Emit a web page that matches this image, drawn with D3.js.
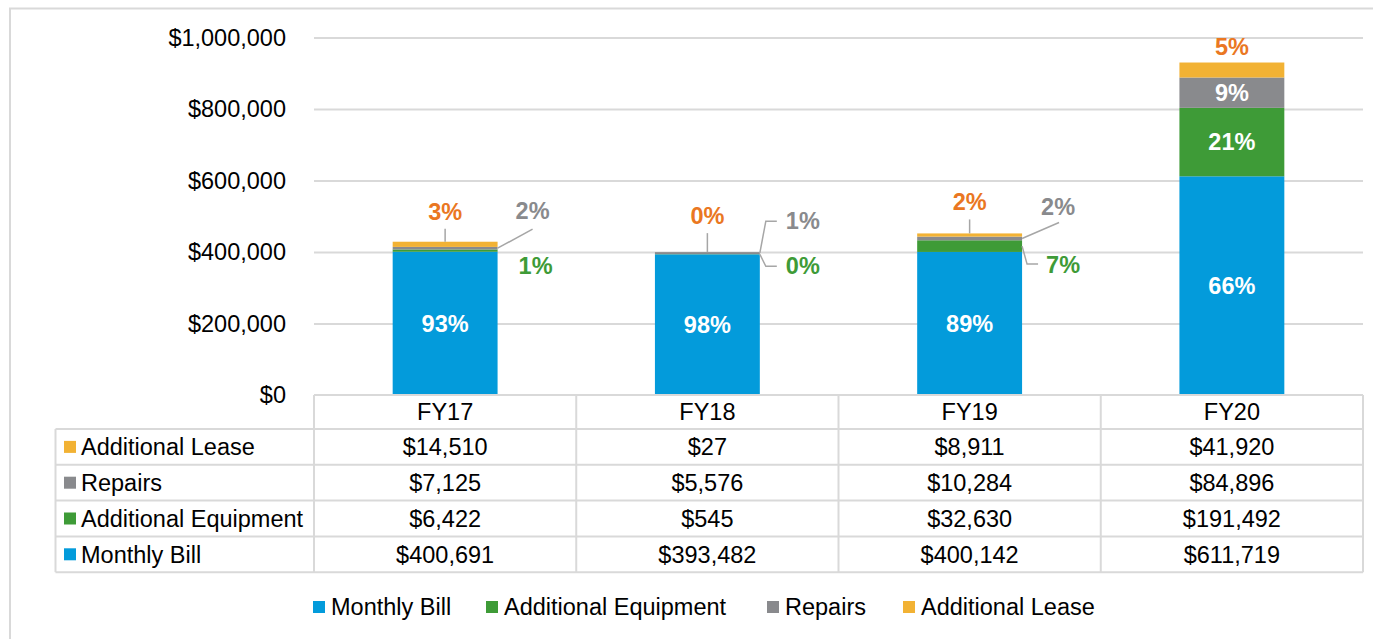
<!DOCTYPE html>
<html>
<head>
<meta charset="utf-8">
<script src="https://cdn.jsdelivr.net/npm/d3@7"></script>
<style>
  body { margin: 0; background: #fff; }
  svg { display: block; font-family: "Liberation Sans", Arial, sans-serif; }
</style>
</head>
<body>
<div id="chart"></div>
<script>
// data
var years = ["FY17", "FY18", "FY19", "FY20"];
var seriesNames = ["Monthly Bill", "Additional Equipment", "Repairs", "Additional Lease"];
var monthlyBill = [400691, 393482, 400142, 611719];
var additionalEquipment = [6422, 545, 32630, 191492];
var repairs = [7125, 5576, 10284, 84896];
var additionalLease = [14510, 27, 8911, 41920];
var yTicks = [0, 200000, 400000, 600000, 800000, 1000000];

var colors = {
    "Monthly Bill": "#039bdb",
    "Additional Equipment": "#3e9b37",
    "Repairs": "#898a8d",
    "Additional Lease": "#f2b234"
};
var labelColors = {
    "Additional Equipment": "#3e9b37",
    "Repairs": "#898a8d",
    "Additional Lease": "#ea7722"
};

// label placement for the thin segments (offsets from the segment anchor)
var callouts = [
    {year: "FY17", key: "Additional Lease", lx: 0, ly: -30, leader: [[0, 0], [0, -13]]},
    {year: "FY17", key: "Repairs", lx: 35, ly: -37, leader: [[0, 0], [35, -19]]},
    {year: "FY17", key: "Additional Equipment", lx: 38, ly: 15, leader: null},
    {year: "FY18", key: "Additional Lease", lx: 0, ly: -36, leader: [[0, 0], [0, -19]]},
    {year: "FY18", key: "Repairs", lx: 43, ly: -32, leader: [[0, 0], [6, -32], [17, -32]]},
    {year: "FY18", key: "Additional Equipment", lx: 43, ly: 12, leader: [[0, 0], [6, 12], [17, 12]]},
    {year: "FY19", key: "Additional Lease", lx: 0, ly: -32, leader: [[0, 0], [0, -14]]},
    {year: "FY19", key: "Repairs", lx: 36, ly: -32, leader: [[0, 0], [37, -16]]},
    {year: "FY19", key: "Additional Equipment", lx: 41, ly: 19, leader: [[0, 0], [5, 18], [16, 18]]},
    {year: "FY20", key: "Additional Lease", lx: 0, ly: -16, leader: null}
];

var rows = years.map(function(y, i) {
    return {
        year: y,
        "Monthly Bill": monthlyBill[i],
        "Additional Equipment": additionalEquipment[i],
        "Repairs": repairs[i],
        "Additional Lease": additionalLease[i]
    };
});

var width = 1373, height = 639;
var plotLeft = 314, plotRight = 1363, plotTop = 37.5, plotBottom = 395;
var gridColor = "#d9d9d9";
var fontSize = 23.5;

var svg = d3.select("#chart").append("svg")
    .attr("width", width)
    .attr("height", height);

// outer frame
svg.append("rect")
    .attr("x", 10).attr("y", 8.5)
    .attr("width", width + 20).attr("height", height + 20)
    .attr("fill", "none")
    .attr("stroke", gridColor)
    .attr("stroke-width", 2);

var x = d3.scaleBand().domain(years).range([plotLeft, plotRight]);
var y = d3.scaleLinear().domain([0, 1000000]).range([plotBottom, plotTop]);
var barW = x.bandwidth() * 0.4;

// y axis and grid
var yAxis = d3.axisLeft(y)
    .tickValues(yTicks)
    .tickSize(-(plotRight - plotLeft))
    .tickPadding(28)
    .tickFormat(d3.format("$,"));

var gy = svg.append("g")
    .attr("transform", "translate(" + plotLeft + ",0)")
    .call(yAxis);
gy.select(".domain").remove();
gy.selectAll(".tick line")
    .attr("stroke", gridColor)
    .attr("stroke-width", 2)
    .filter(function(d) { return d === 0; }).remove();
gy.selectAll(".tick text")
    .attr("fill", "#000")
    .style("font-size", fontSize + "px")
    .style("font-family", "'Liberation Sans', Arial, sans-serif");

// stacked bars
var stack = d3.stack().keys(seriesNames);
var stacked = stack(rows);

var layers = svg.append("g").selectAll("g")
    .data(stacked)
    .join("g")
    .attr("fill", function(d) { return colors[d.key]; });

layers.selectAll("rect")
    .data(function(d) { return d; })
    .join("rect")
    .attr("x", function(d) { return x(d.data.year) + (x.bandwidth() - barW) / 2; })
    .attr("y", function(d) { return y(d[1]); })
    .attr("width", barW)
    .attr("height", function(d) { return y(d[0]) - y(d[1]); });

var pct = d3.format(".0%");
function total(r) {
    return d3.sum(seriesNames, function(k) { return r[k]; });
}

// labels inside tall segments
var labelG = svg.append("g")
    .attr("font-weight", "bold")
    .attr("font-size", fontSize + "px")
    .attr("text-anchor", "middle");

stacked.forEach(function(layer) {
    layer.forEach(function(d) {
        var h = y(d[0]) - y(d[1]);
        if (h < 30) return;
        labelG.append("text")
            .attr("x", x(d.data.year) + x.bandwidth() / 2)
            .attr("y", (y(d[0]) + y(d[1])) / 2)
            .attr("dy", "0.35em")
            .attr("fill", "#fff")
            .text(pct(d.data[layer.key] / total(d.data)));
    });
});

// callouts for thin segments
callouts.forEach(function(c) {
    var layer = stacked.find(function(l) { return l.key === c.key; });
    var d = layer[years.indexOf(c.year)];
    var cx = x(c.year) + x.bandwidth() / 2;
    var ax, ay;
    if (c.key === "Additional Lease") {
        ax = cx;
        ay = y(d[1]);
    } else {
        ax = cx + barW / 2;
        ay = (y(d[0]) + y(d[1])) / 2;
    }
    if (c.leader) {
        svg.append("path")
            .attr("d", d3.line()(c.leader.map(function(p) { return [ax + p[0], ay + p[1]]; })))
            .attr("fill", "none")
            .attr("stroke", "#a6a6a6")
            .attr("stroke-width", 1.5);
    }
    labelG.append("text")
        .attr("x", ax + c.lx)
        .attr("y", ay + c.ly)
        .attr("dy", "0.35em")
        .attr("fill", labelColors[c.key])
        .text(pct(d.data[c.key] / total(d.data)));
});

// data table under the chart
var tableLeft = 55.5;
var headerTop = plotBottom, headerH = 34, rowH = 35.8;
var tableRows = ["Additional Lease", "Repairs", "Additional Equipment", "Monthly Bill"];
var tableValues = {
    "Additional Lease": additionalLease,
    "Repairs": repairs,
    "Additional Equipment": additionalEquipment,
    "Monthly Bill": monthlyBill
};
var tableBottom = headerTop + headerH + rowH * tableRows.length;
var money = d3.format("$,");

var tg = svg.append("g")
    .attr("font-size", fontSize + "px")
    .attr("fill", "#000");

var lines = [];
// horizontal lines
lines.push([plotLeft, headerTop, plotRight, headerTop]);
for (var r = 0; r <= tableRows.length; r++) {
    var yy = headerTop + headerH + r * rowH;
    lines.push([tableLeft, yy, plotRight, yy]);
}
// vertical lines
lines.push([tableLeft, headerTop + headerH, tableLeft, tableBottom]);
years.forEach(function(yr) {
    lines.push([x(yr), headerTop, x(yr), tableBottom]);
});
lines.push([plotRight, headerTop, plotRight, tableBottom]);

tg.selectAll("line")
    .data(lines)
    .join("line")
    .attr("x1", function(d) { return d[0]; })
    .attr("y1", function(d) { return d[1]; })
    .attr("x2", function(d) { return d[2]; })
    .attr("y2", function(d) { return d[3]; })
    .attr("stroke", gridColor)
    .attr("stroke-width", 2);

tg.selectAll("text.hdr")
    .data(years)
    .join("text")
    .attr("class", "hdr")
    .attr("x", function(d) { return x(d) + x.bandwidth() / 2; })
    .attr("y", headerTop + headerH / 2)
    .attr("dy", "0.35em")
    .attr("text-anchor", "middle")
    .text(function(d) { return d; });

tableRows.forEach(function(name, ri) {
    var cy = headerTop + headerH + ri * rowH + rowH / 2;
    tg.append("rect")
        .attr("x", 64).attr("y", cy - 6)
        .attr("width", 12).attr("height", 12)
        .attr("fill", colors[name]);
    tg.append("text")
        .attr("x", 81)
        .attr("y", cy)
        .attr("dy", "0.35em")
        .text(name);
    tableValues[name].forEach(function(v, i) {
        tg.append("text")
            .attr("x", x(years[i]) + x.bandwidth() / 2)
            .attr("y", cy)
            .attr("dy", "0.35em")
            .attr("text-anchor", "middle")
            .text(money(v));
    });
});

// legend
var legendY = 607;
var legendX = [313, 486, 767, 903];
var lg = svg.append("g")
    .attr("font-size", fontSize + "px");
seriesNames.forEach(function(name, i) {
    lg.append("rect")
        .attr("x", legendX[i]).attr("y", legendY - 6)
        .attr("width", 12).attr("height", 12)
        .attr("fill", colors[name]);
    lg.append("text")
        .attr("x", legendX[i] + 18)
        .attr("y", legendY)
        .attr("dy", "0.35em")
        .text(name);
});
</script>
</body>
</html>
